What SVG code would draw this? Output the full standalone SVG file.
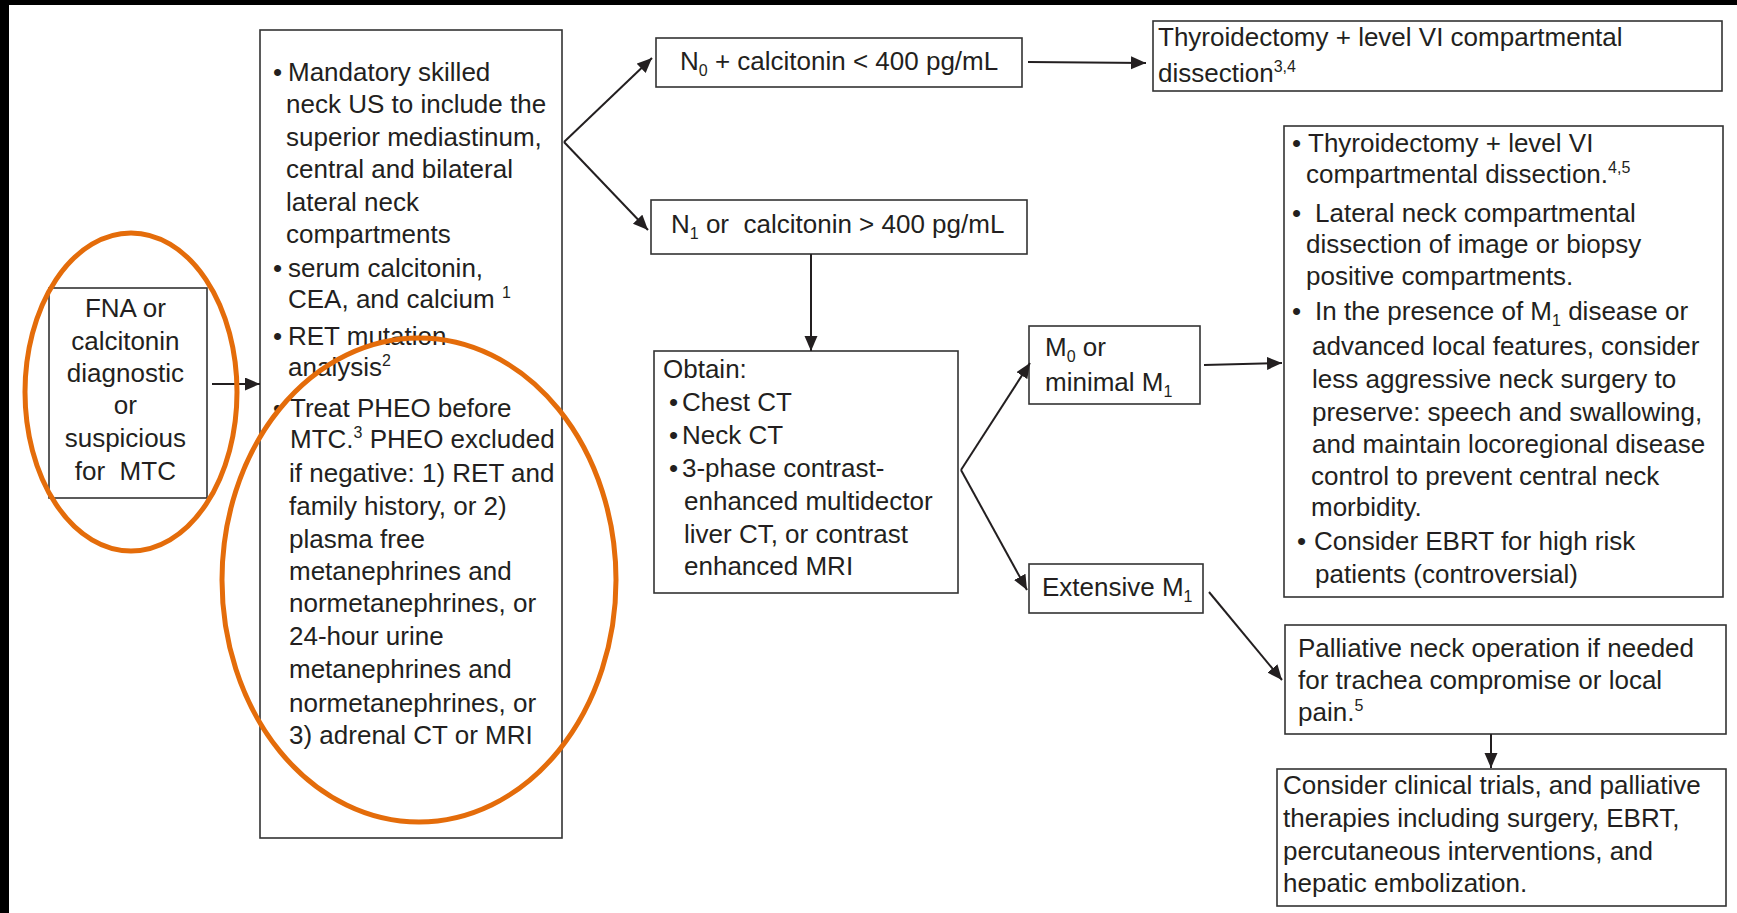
<svg xmlns="http://www.w3.org/2000/svg" width="1737" height="913" viewBox="0 0 1737 913">
<style>
.t{font-family:"Liberation Sans",Arial,Helvetica,sans-serif;font-size:26px;fill:#231f20;white-space:pre}
.s{font-size:16px}
.box{fill:#fff;stroke:#333;stroke-width:1.6}
.ln{fill:none;stroke:#231f20;stroke-width:2}
.ov{fill:none;stroke:#E46C0A;stroke-width:5}
</style>
<defs>
<marker id="ah" markerUnits="userSpaceOnUse" markerWidth="16" markerHeight="14" refX="15" refY="6.5" orient="auto">
<path d="M0,0 L15,6.5 L0,13 z" fill="#231f20"/>
</marker>
</defs>
<rect x="0" y="0" width="1737" height="913" fill="#fff"/>
<rect x="0" y="0" width="1737" height="5" fill="#000"/>
<rect x="0" y="0" width="9" height="913" fill="#000"/>

<g id="fna">
<rect class="box" x="49" y="288" width="158" height="210"/>
<text class="t" text-anchor="middle">
<tspan x="129" y="317">FNA or</tspan>
<tspan x="129" y="350">calcitonin</tspan>
<tspan x="129" y="382">diagnostic</tspan>
<tspan x="129" y="414">or</tspan>
<tspan x="129" y="447">suspicious</tspan>
<tspan x="129" y="480">for  MTC</tspan>
</text>
</g>

<g id="workup">
<rect class="box" x="260" y="30" width="302" height="808"/>
<text class="t" x="273" y="81">•</text>
<text class="t" x="273" y="277">•</text>
<text class="t" x="273" y="345">•</text>
<text class="t" x="273" y="417">•</text>
<text class="t">
<tspan x="288" y="81">Mandatory skilled</tspan>
<tspan x="286" y="113">neck US to include the</tspan>
<tspan x="286" y="146">superior mediastinum,</tspan>
<tspan x="286" y="178">central and bilateral</tspan>
<tspan x="286" y="211">lateral neck</tspan>
<tspan x="286" y="243">compartments</tspan>
<tspan x="288" y="277">serum calcitonin,</tspan>
<tspan x="288" y="308">CEA, and calcium <tspan class="s" dy="-10">1</tspan></tspan>
</text>
<text class="t" x="288" y="345">RET mutation</text>
<text class="t" x="288" y="376">analysis<tspan class="s" dy="-10">2</tspan></text>
<text class="t">
<tspan x="290" y="417">Treat PHEO before</tspan>
<tspan x="290" y="448">MTC.<tspan class="s" dy="-10">3</tspan><tspan dy="10"> PHEO excluded</tspan></tspan>
<tspan x="289" y="482">if negative: 1) RET and</tspan>
<tspan x="289" y="515">family history, or 2)</tspan>
<tspan x="289" y="548">plasma free</tspan>
<tspan x="289" y="580">metanephrines and</tspan>
<tspan x="289" y="612">normetanephrines, or</tspan>
<tspan x="289" y="645">24-hour urine</tspan>
<tspan x="289" y="678">metanephrines and</tspan>
<tspan x="289" y="712">normetanephrines, or</tspan>
<tspan x="289" y="744">3) adrenal CT or MRI</tspan>
</text>
</g>

<g id="n0">
<rect class="box" x="656" y="38" width="366" height="49"/>
<text class="t" x="680" y="70">N<tspan class="s" dy="6">0</tspan><tspan dy="-6"> + calcitonin &lt; 400 pg/mL</tspan></text>
</g>

<g id="thyroid">
<rect class="box" x="1153" y="21" width="569" height="70"/>
<text class="t">
<tspan x="1158" y="46">Thyroidectomy + level VI compartmental</tspan>
<tspan x="1158" y="82">dissection<tspan class="s" dy="-10">3,4</tspan></tspan>
</text>
</g>

<g id="n1">
<rect class="box" x="651" y="200" width="376" height="54"/>
<text class="t" x="671" y="233">N<tspan class="s" dy="6">1</tspan><tspan dy="-6"> or  calcitonin &gt; 400 pg/mL</tspan></text>
</g>

<g id="obtain">
<rect class="box" x="654" y="351" width="304" height="242"/>
<text class="t" x="669" y="411">•</text>
<text class="t" x="669" y="444">•</text>
<text class="t" x="669" y="477">•</text>
<text class="t">
<tspan x="663" y="378">Obtain:</tspan>
<tspan x="682" y="411">Chest CT</tspan>
<tspan x="682" y="444">Neck CT</tspan>
<tspan x="682" y="477">3-phase contrast-</tspan>
<tspan x="684" y="510">enhanced multidector</tspan>
<tspan x="684" y="543">liver CT, or contrast</tspan>
<tspan x="684" y="575">enhanced MRI</tspan>
</text>
</g>

<g id="m0">
<rect class="box" x="1029" y="326" width="171" height="78"/>
<text class="t">
<tspan x="1045" y="356">M<tspan class="s" dy="6">0</tspan><tspan dy="-6"> or</tspan></tspan>
<tspan x="1045" y="391">minimal M<tspan class="s" dy="6">1</tspan></tspan>
</text>
</g>

<g id="extensive">
<rect class="box" x="1029" y="564" width="174" height="49"/>
<text class="t" x="1042" y="596">Extensive M<tspan class="s" dy="6">1</tspan></text>
</g>

<g id="surgery">
<rect class="box" x="1284" y="126" width="439" height="471"/>
<text class="t" x="1292" y="152">•</text>
<text class="t" x="1292" y="222">•</text>
<text class="t" x="1292" y="320">•</text>
<text class="t" x="1297" y="550">•</text>
<text class="t">
<tspan x="1308" y="152">Thyroidectomy + level VI</tspan>
<tspan x="1306" y="183">compartmental dissection.<tspan class="s" dy="-10">4,5</tspan></tspan>
<tspan x="1315" y="222">Lateral neck compartmental</tspan>
<tspan x="1306" y="253">dissection of image or biopsy</tspan>
<tspan x="1306" y="285">positive compartments.</tspan>
<tspan x="1315" y="320">In the presence of M<tspan class="s" dy="6">1</tspan><tspan dy="-6"> disease or</tspan></tspan>
<tspan x="1312" y="355">advanced local features, consider</tspan>
<tspan x="1312" y="388">less aggressive neck surgery to</tspan>
<tspan x="1312" y="421">preserve: speech and swallowing,</tspan>
<tspan x="1312" y="453">and maintain locoregional disease</tspan>
<tspan x="1311" y="485">control to prevent central neck</tspan>
<tspan x="1311" y="516">morbidity.</tspan>
<tspan x="1314" y="550">Consider EBRT for high risk</tspan>
<tspan x="1315" y="583">patients (controversial)</tspan>
</text>
</g>

<g id="palliative">
<rect class="box" x="1285" y="625" width="441" height="109"/>
<text class="t">
<tspan x="1298" y="657">Palliative neck operation if needed</tspan>
<tspan x="1298" y="689">for trachea compromise or local</tspan>
<tspan x="1298" y="721">pain.<tspan class="s" dy="-10">5</tspan></tspan>
</text>
</g>

<g id="trials">
<rect class="box" x="1277" y="769" width="449" height="137"/>
<text class="t">
<tspan x="1283" y="794">Consider clinical trials, and palliative</tspan>
<tspan x="1283" y="827">therapies including surgery, EBRT,</tspan>
<tspan x="1283" y="860">percutaneous interventions, and</tspan>
<tspan x="1283" y="892">hepatic embolization.</tspan>
</text>
</g>

<g id="connectors">
<line class="ln" x1="212" y1="384" x2="260" y2="384" marker-end="url(#ah)"/>
<line class="ln" x1="564" y1="142" x2="652" y2="58" marker-end="url(#ah)"/>
<line class="ln" x1="564" y1="142" x2="648" y2="230" marker-end="url(#ah)"/>
<line class="ln" x1="1028" y1="62" x2="1146" y2="63" marker-end="url(#ah)"/>
<line class="ln" x1="811" y1="254" x2="811" y2="351" marker-end="url(#ah)"/>
<line class="ln" x1="961" y1="470" x2="1030" y2="363" marker-end="url(#ah)"/>
<line class="ln" x1="961" y1="470" x2="1027" y2="590" marker-end="url(#ah)"/>
<line class="ln" x1="1204" y1="365" x2="1282" y2="363" marker-end="url(#ah)"/>
<line class="ln" x1="1209" y1="592" x2="1282" y2="680" marker-end="url(#ah)"/>
<line class="ln" x1="1491" y1="734" x2="1491" y2="768" marker-end="url(#ah)"/>
</g>

<g id="highlights">
<ellipse class="ov" cx="131" cy="392" rx="106" ry="159"/>
<ellipse class="ov" cx="419" cy="580" rx="197" ry="242"/>
</g>
</svg>
